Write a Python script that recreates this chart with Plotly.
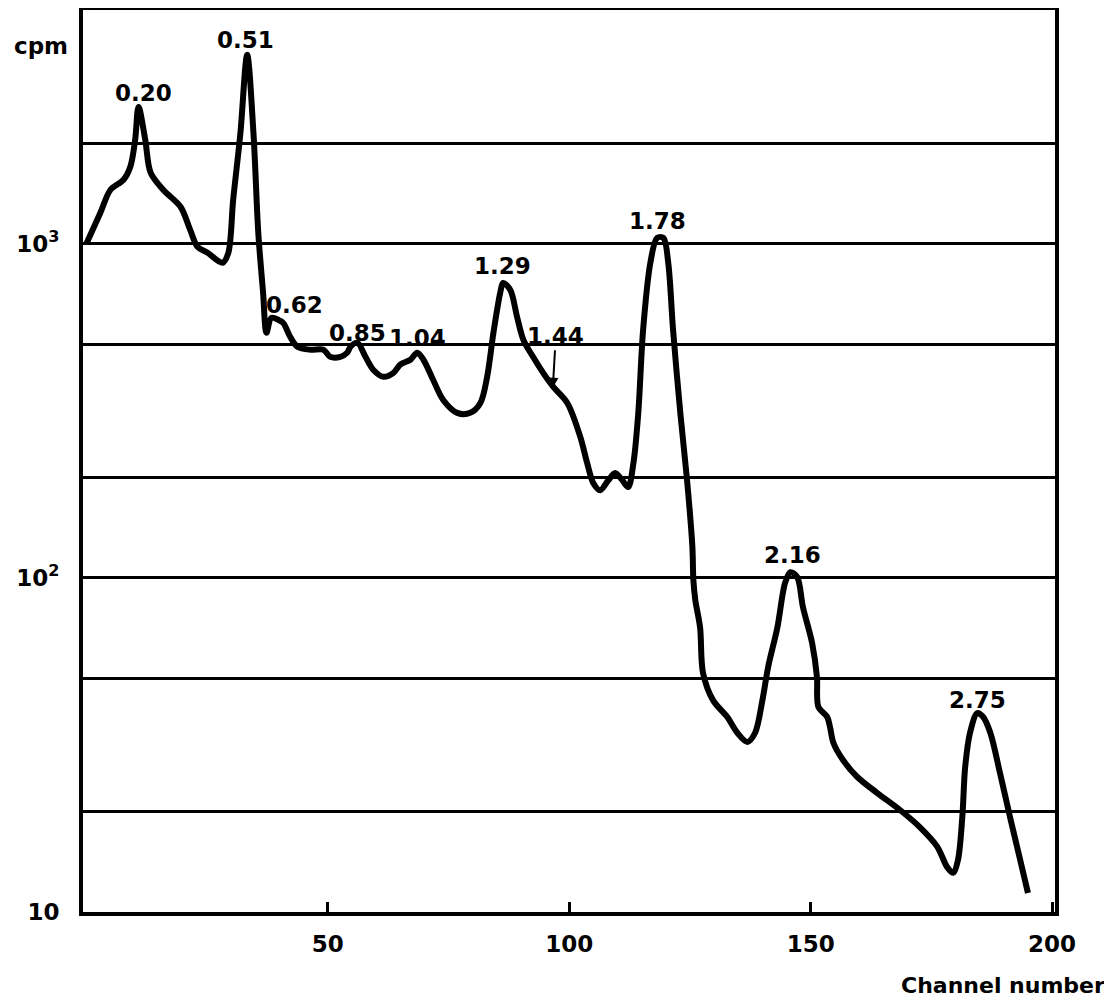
import math
import plotly.graph_objects as go

# Channel number (x) and counts per minute (y)
channel = [0.0, 2.9, 5.0, 7.7, 9.1, 10.1, 10.8, 12.2, 13.3, 15.9, 19.5, 21.5, 23.0, 25.1,
           28.2, 29.4, 30.4, 31.9, 33.3, 34.6, 35.6, 36.6, 37.3, 38.3, 39.8, 40.8, 42.2,
           43.7, 46.4, 49.1, 50.5, 52.6, 54.0, 54.7, 56.1, 57.8, 59.4, 61.5, 63.6, 65.0,
           67.1, 68.5, 69.8, 71.8, 73.9, 76.8, 79.5, 81.6, 83.0, 84.3, 85.7, 86.3, 87.8,
           89.2, 90.5, 92.5, 94.6, 96.7, 99.6, 102.3, 103.7, 105.0, 106.4, 108.1, 109.5,
           111.0, 112.2, 113.3, 114.3, 115.3, 116.8, 118.2, 119.5, 120.5, 121.5, 123.0,
           124.4, 125.5, 125.7, 126.1, 127.1, 127.7, 129.8, 132.7, 134.8, 136.9, 138.5,
           140.0, 141.2, 143.1, 144.7, 145.8, 147.2, 148.4, 150.3, 151.3, 151.6, 153.4,
           154.0, 154.7, 156.7, 159.6, 163.8, 168.5, 172.7, 176.2, 178.3, 179.5, 180.5,
           181.4, 182.0, 183.0, 184.5, 185.7, 187.2, 189.2, 191.3, 193.4, 195.0]
cpm = [1000, 1239, 1452, 1555, 1701, 2047, 2570, 2047, 1633, 1452, 1291, 1101, 980, 940,
       878, 940, 1354, 2147, 3681, 2147, 1079, 713, 542, 600, 592, 579, 527,
       492, 482, 482, 459, 459, 472, 492, 506, 459, 420, 400, 411, 435,
       450, 472, 450, 392, 341, 312, 312, 334, 400, 542, 713, 764, 728,
       604, 516, 459, 411, 373, 334, 264, 221, 192, 183, 196, 206,
       196, 187, 221, 312, 553, 878, 1042, 1042, 878, 553, 312,
       196, 124, 99, 86, 71, 52, 43, 38.4, 34.4, 32.3, 34.4,
       43, 54.2, 71, 96.6, 104, 100.7, 81.8, 63.8, 50.5, 41.1, 38.4,
       35.8, 32.1, 28.5, 25.4, 22.7, 20.2, 17.9, 15.7, 13.6, 13.1, 14.3,
       19.2, 27.2, 34.4, 39.4, 38.4, 34.4, 26.1, 19.2, 14.3, 11.4]

# Peak labels (energies) and where they sit
peak_text = ["0.20", "0.51", "0.62", "0.85", "1.04", "1.29", "1.78", "2.16", "2.75"]
peak_x = [11.8, 32.9, 43.1, 56.1, 68.5, 86.1, 118.2, 146.2, 184.5]
peak_y = [2832, 4086, 656, 542, 523, 859, 1172, 117, 43.2]

arrow_text = "1.44"
arrow_x = 96.6
arrow_y = 371

x_ticks = [50, 100, 150, 200]
y_grid = [10, 20, 50, 100, 200, 500, 1000, 2000]
y_grid_text = ["10", "", "", "10<sup>2</sup>", "", "", "10<sup>3</sup>", ""]

FONT = "DejaVu Sans, Roboto, Arial, sans-serif"
LBL = dict(family=FONT, size=23, color="black", weight="bold")

fig = go.Figure()
fig.add_trace(go.Scatter(
    x=channel, y=cpm, mode="lines",
    line=dict(color="black", width=6, shape="spline", smoothing=0.9),
    hoverinfo="skip", showlegend=False,
))

# annotations on a log axis take log10 positions
for t, xx, yy in zip(peak_text, peak_x, peak_y):
    fig.add_annotation(x=xx, y=math.log10(yy), text=t, showarrow=False, font=LBL)

fig.add_annotation(x=arrow_x, y=math.log10(arrow_y), text=arrow_text, showarrow=True,
                   ax=3, ay=-52, arrowhead=2, arrowsize=1, arrowwidth=2,
                   arrowcolor="black", standoff=0, startstandoff=0, font=LBL)

fig.add_annotation(xref="paper", yref="paper", x=-0.043, y=0.96, text="cpm",
                   showarrow=False, xanchor="center", yanchor="middle", font=LBL)
fig.add_annotation(xref="paper", yref="paper", x=0.946, y=-0.081, text="Channel number",
                   showarrow=False, xanchor="center", yanchor="middle",
                   font=dict(family=FONT, size=22, color="black", weight="bold"))

fig.update_xaxes(
    range=[-0.7, 200.6], tickvals=x_ticks, ticktext=[str(v) for v in x_ticks],
    ticks="inside", ticklen=10, tickwidth=3, tickcolor="black",
    showgrid=False, zeroline=False, automargin=False,
    showline=True, linewidth=4, linecolor="black", mirror=True,
    ticklabelstandoff=8,
    tickfont=LBL,
)
fig.update_yaxes(
    type="log", range=[1, 3.70], tickvals=y_grid, ticktext=y_grid_text,
    ticks="", showgrid=True, gridcolor="black", gridwidth=3,
    zeroline=False, automargin=False,
    showline=True, linewidth=4, linecolor="black", mirror=True,
    ticklabelstandoff=15,
    tickfont=LBL,
)
# the page body adds an 8 px offset, so margins are reduced accordingly
fig.update_layout(
    width=1112, height=1001,
    margin=dict(l=75, r=65, t=2, b=97),
    paper_bgcolor="white", plot_bgcolor="white",
)
fig.write_html("out.html")
